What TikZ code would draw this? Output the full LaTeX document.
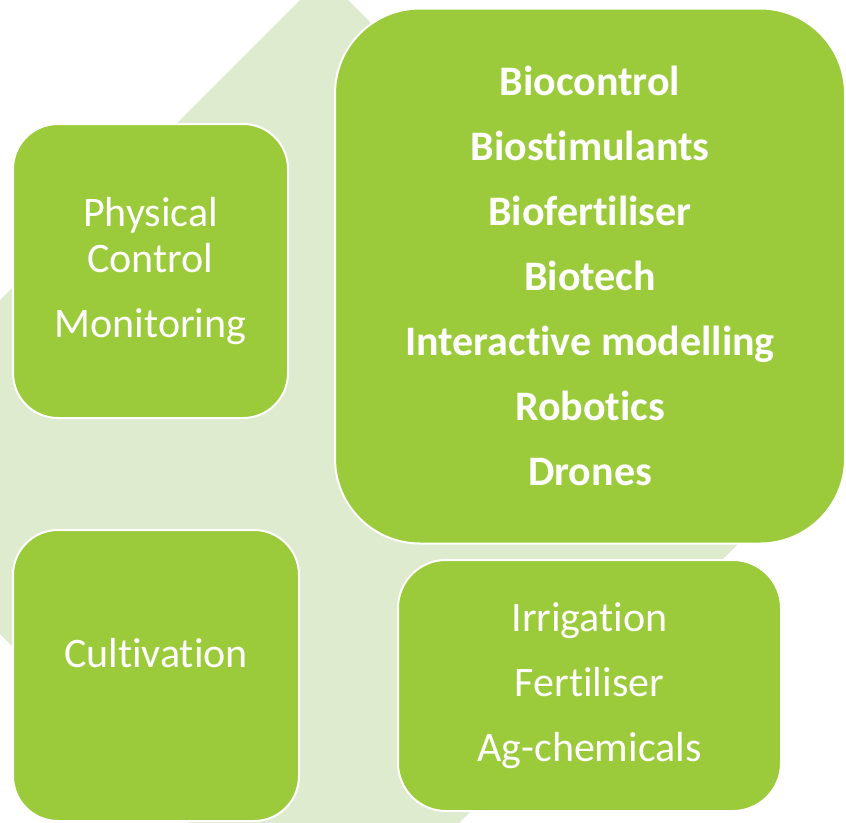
\documentclass[tikz,border=0pt]{standalone}
\usepackage{fontspec}
\setmainfont{Carlito}[RawFeature={-liga;-clig;-dlig;-calt}]
\usepackage{tikz}
\usetikzlibrary{positioning,backgrounds}

\definecolor{limegreen}{HTML}{9BCB3B}
\definecolor{palegreen}{HTML}{DEEBCF}

\begin{document}
\begin{tikzpicture}[x=1pt, y=-1pt,
    cell/.style={draw=white, line width=2pt, fill=limegreen, rounded corners=45pt,
        text=white, align=center, inner sep=0pt,
        font=\fontsize{42pt}{46pt}\selectfont},
    boldcell/.style={cell, rounded corners=85pt,
        font=\fontsize{42pt}{46pt}\selectfont\bfseries},
    celltext/.style={text=white, align=center, inner sep=0pt,
        font=\fontsize{42pt}{46pt}\selectfont}]
    \useasboundingbox (0,0) rectangle (846,822);

    \node[cell, minimum width=275pt, minimum height=294pt] (phys) at (150.5,271)
        {Physical\\Control\\[19pt]Monitoring};
    \node[boldcell, minimum width=510pt, minimum height=535pt] (bio) at (590,276)
        {Biocontrol\\[19pt]Biostimulants\\[19pt]Biofertiliser\\[19pt]Biotech\\[19pt]%
         Interactive modelling\\[19pt]Robotics\\[19pt]Drones};
    \node[cell, minimum width=286pt, minimum height=291pt] (cult) at (156,675.5) {};
    \node[celltext] (culttext) at (156,653) {Cultivation};
    \node[cell, rounded corners=48pt, minimum width=383pt, minimum height=251pt] (irr) at (589.5,685.5)
        {Irrigation\\[19pt]Fertiliser\\[19pt]Ag-chemicals};

    \begin{pgfonlayer}{background}
        \clip (0,0) rectangle (846,822);
        \fill[palegreen] (324,-24) -- (815,467) -- (324,958) -- (-167,467) -- cycle;
    \end{pgfonlayer}
\end{tikzpicture}
\end{document}
